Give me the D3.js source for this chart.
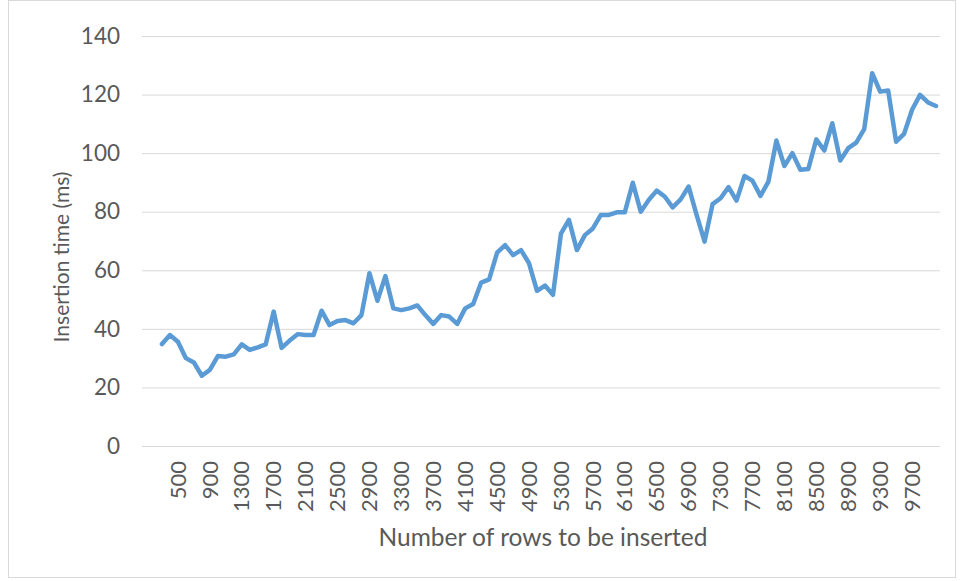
<!DOCTYPE html>
<html>
<head>
<meta charset="utf-8">
<script src="https://cdn.jsdelivr.net/npm/d3@7"></script>
<style>
  html, body { margin: 0; padding: 0; background: #ffffff; }
  svg { display: block; }
  text { font-family: Lato, "Open Sans", sans-serif; fill: #595959; }
</style>
</head>
<body>
<svg id="chart" width="961" height="581"></svg>
<script>
// Axis categories (rows inserted); measurements start at 300 rows
const axisCategories = d3.range(100, 10001, 100);
const rowCounts = d3.range(300, 10001, 100);

// Insertion time in milliseconds for each row count
const insertionTimes = [
  34.8, 37.9, 35.6, 30.0, 28.5, 24.0, 26.0, 30.7, 30.5, 31.3,
  34.7, 32.8, 33.7, 34.7, 45.9, 33.5, 36.0, 38.2, 37.9, 37.9,
  46.2, 41.3, 42.7, 43.0, 41.9, 44.7, 59.0, 49.6, 58.0, 47.0,
  46.4, 47.0, 48.0, 44.7, 41.7, 44.7, 44.2, 41.7, 47.0, 48.5,
  55.8, 56.9, 66.0, 68.6, 65.2, 66.9, 62.4, 53.0, 54.8, 51.6,
  72.5, 77.2, 66.9, 72.0, 74.3, 78.9, 78.9, 79.8, 79.8, 89.9,
  80.0, 84.0, 87.2, 85.2, 81.5, 84.2, 88.6, 78.9, 69.8, 82.6,
  84.6, 88.4, 83.8, 92.2, 90.6, 85.4, 90.3, 104.3, 95.6, 100.0,
  94.3, 94.6, 104.7, 100.9, 110.2, 97.5, 101.7, 103.6, 108.2, 127.3,
  121.0, 121.4, 103.9, 106.6, 114.8, 119.9, 117.3, 116.1
];

// Labelled categories on the x axis
const xTickLabels = [500, 900, 1300, 1700, 2100, 2500, 2900, 3300, 3700, 4100, 4500, 4900,
  5300, 5700, 6100, 6500, 6900, 7300, 7700, 8100, 8500, 8900, 9300, 9700];
const yTickLabels = [0, 20, 40, 60, 80, 100, 120, 140];

const svg = d3.select("#chart");
const plot = { left: 142, right: 940, top: 36, bottom: 446 };

// Chart frame
svg.append("rect")
  .attr("x", 8.5).attr("y", 0.5)
  .attr("width", 947).attr("height", 577)
  .attr("fill", "none").attr("stroke", "#d9d9d9").attr("stroke-width", 1);

const x = d3.scaleBand().domain(axisCategories).range([plot.left, plot.right]);
const y = d3.scaleLinear().domain([0, 140]).range([plot.bottom, plot.top]);

// Horizontal gridlines with value labels
const yAxis = svg.append("g")
  .attr("transform", `translate(${plot.left},0)`)
  .call(d3.axisLeft(y).tickValues(yTickLabels).tickSize(-(plot.right - plot.left)).tickPadding(22));
yAxis.select(".domain").remove();
yAxis.selectAll(".tick line").attr("stroke", "#d9d9d9").attr("stroke-width", 1);
yAxis.selectAll(".tick text")
  .style("font-size", "22.5px").attr("fill", "#595959");

// Category labels, rotated
const xAxis = svg.append("g")
  .attr("transform", `translate(0,${plot.bottom})`)
  .call(d3.axisBottom(x).tickValues(xTickLabels).tickSize(0));
xAxis.select(".domain").remove();
xAxis.selectAll(".tick text")
  .style("font-size", "22px").attr("fill", "#595959")
  .attr("text-anchor", "end")
  .attr("transform", "rotate(-90)")
  .attr("x", -15).attr("y", 0).attr("dy", "0.35em");

// Series line
const line = d3.line()
  .x((d, i) => x(rowCounts[i]) + x.bandwidth() / 2)
  .y(d => y(d));

svg.append("path")
  .datum(insertionTimes)
  .attr("d", line)
  .attr("fill", "none")
  .attr("stroke", "#5b9bd5")
  .attr("stroke-width", 4.5)
  .attr("stroke-linejoin", "round")
  .attr("stroke-linecap", "round");

// Axis titles
svg.append("text")
  .attr("transform", `translate(69,${(plot.top + plot.bottom) / 2 + 16}) rotate(-90)`)
  .attr("text-anchor", "middle")
  .style("font-size", "21px")
  .text("Insertion time (ms)");

svg.append("text")
  .attr("x", 543).attr("y", 546)
  .attr("text-anchor", "middle")
  .style("font-size", "24.5px")
  .text("Number of rows to be inserted");
</script>
</body>
</html>
